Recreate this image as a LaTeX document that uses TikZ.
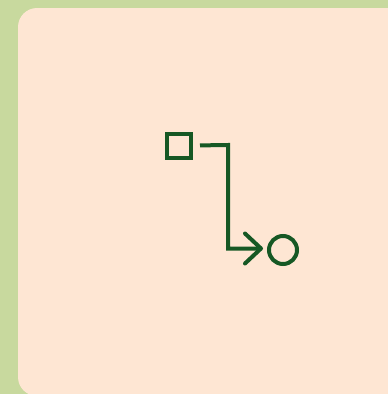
\documentclass[tikz,border=0pt]{standalone}
\usetikzlibrary{arrows.meta}
\definecolor{bggreen}{RGB}{200,217,158}
\definecolor{peach}{RGB}{254,230,211}
\definecolor{ink}{RGB}{22,88,36}
\begin{document}
\begin{tikzpicture}[x=1pt,y=-1pt,
  mark shape/.style={draw=ink,line width=4pt,inner sep=0pt,outer sep=2pt},
  link/.style={draw=ink,line width=4pt,-{Straight Barb[length=16pt,width=30pt,line width=4pt,round]}}]
\useasboundingbox (0,0) rectangle (388,394);
\fill[bggreen] (0,0) rectangle (388,394);
\fill[peach,rounded corners=19pt] (18,8) rectangle (410,396);
\node[mark shape,rectangle,minimum size=24pt] (sq) at (179,145.5) {};
\node[mark shape,circle,minimum size=28pt] (circ) at (283,250) {};
\coordinate (k) at (228,145);
\draw[link,shorten <=7pt,shorten >=4pt] (sq.east) -- (k) |- ([yshift=1.5pt]circ.west);
\end{tikzpicture}
\end{document}
